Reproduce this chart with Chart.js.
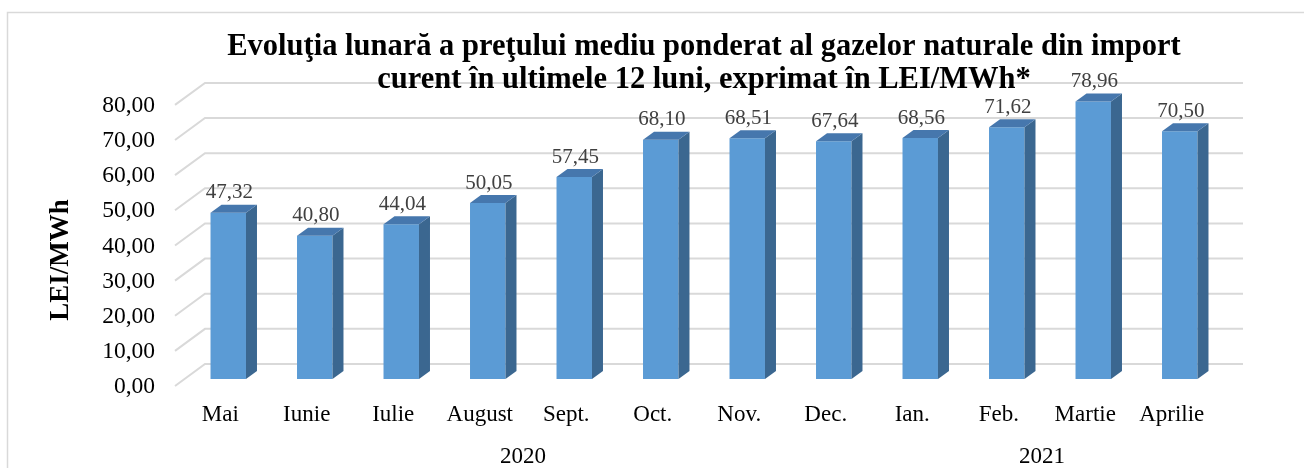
<!DOCTYPE html>
<html>
<head>
<meta charset="utf-8">
<script src="https://cdn.jsdelivr.net/npm/chart.js@4/dist/chart.umd.min.js"></script>
<style>
  html, body { margin: 0; padding: 0; background: #fff; }
  #wrap { width: 1304px; height: 468px; position: relative; }
</style>
</head>
<body>
<div id="wrap"><canvas id="gazChart"></canvas></div>
<script>
// date
const luni = ['Mai', 'Iunie', 'Iulie', 'August', 'Sept.', 'Oct.', 'Nov.', 'Dec.', 'Ian.', 'Feb.', 'Martie', 'Aprilie'];
const preturi = [47.32, 40.80, 44.04, 50.05, 57.45, 68.10, 68.51, 67.64, 68.56, 71.62, 78.96, 70.50];
const ani = ['2020', '2021'];
const luniPeAn = [8, 4];
const titlu = ['Evoluţia lunară a preţului mediu ponderat al gazelor naturale din import',
               'curent în ultimele 12 luni, exprimat în LEI/MWh*'];
const titluAxaY = 'LEI/MWh';

const SERIF = "'Liberation Serif', 'Times New Roman', serif";

function fmt(v) {
    return v.toFixed(2).replace('.', ',');
}

// pseudo-3D: pereti, grila, fete laterale, etichete
const efect3D = {
    id: 'efect3D',
    beforeDraw(chart) {
        const ctx = chart.ctx;
        const y = chart.scales.y;
        const area = chart.chartArea;
        ctx.save();
        // chenarul exterior
        ctx.strokeStyle = '#d9d9d9';
        ctx.lineWidth = 1.5;
        ctx.beginPath();
        ctx.moveTo(7.5, chart.height);
        ctx.lineTo(7.5, 12.5);
        ctx.lineTo(chart.width, 12.5);
        ctx.stroke();
        // grila pe peretele din spate (sub titlu)
        ctx.lineWidth = 2;
        y.ticks.forEach(t => {
            const py = y.getPixelForValue(t.value);
            ctx.beginPath();
            ctx.moveTo(area.left - 10, py + 7);
            ctx.lineTo(area.left + 20, py - 15);
            ctx.lineTo(area.right + 20, py - 15);
            ctx.stroke();
        });
        ctx.restore();
    },
    afterDatasetsDraw(chart) {
        const ctx = chart.ctx;
        const meta = chart.getDatasetMeta(0);
        const base = chart.scales.y.getPixelForValue(0);
        const dx = 11, dy = -8;
        ctx.save();
        meta.data.forEach((bar, i) => {
            const half = bar.width / 2;
            const l = bar.x - half, r = bar.x + half, top = bar.y;
            // fata laterala
            ctx.fillStyle = '#3b6790';
            ctx.beginPath();
            ctx.moveTo(r, top);
            ctx.lineTo(r + dx, top + dy);
            ctx.lineTo(r + dx, base + dy);
            ctx.lineTo(r, base);
            ctx.closePath();
            ctx.fill();
            // fata de sus
            ctx.fillStyle = '#4677ad';
            ctx.beginPath();
            ctx.moveTo(l, top);
            ctx.lineTo(l + dx, top + dy);
            ctx.lineTo(r + dx, top + dy);
            ctx.lineTo(r, top);
            ctx.closePath();
            ctx.fill();
            // eticheta valorii
            ctx.fillStyle = '#404040';
            ctx.font = '21px ' + SERIF;
            ctx.textAlign = 'center';
            ctx.textBaseline = 'middle';
            ctx.fillText(fmt(preturi[i]), bar.x + 1, top - 20);
        });
        ctx.restore();
    },
    afterDraw(chart) {
        const ctx = chart.ctx;
        const x = chart.scales.x;
        ctx.save();
        // anii sub luni
        ctx.fillStyle = '#000';
        ctx.font = '23px ' + SERIF;
        ctx.textAlign = 'center';
        ctx.textBaseline = 'middle';
        let start = 0;
        ani.forEach((an, k) => {
            const end = start + luniPeAn[k] - 1;
            const cx = (x.getPixelForValue(start) + x.getPixelForValue(end)) / 2 - 8;
            ctx.fillText(an, cx, 457);
            start = end + 1;
        });
        // titlul axei Y
        ctx.translate(61, 260);
        ctx.rotate(-Math.PI / 2);
        ctx.font = 'bold 27px ' + SERIF;
        ctx.fillText(titluAxaY, 0, 0);
        ctx.restore();
    }
};

new Chart(document.getElementById('gazChart'), {
    type: 'bar',
    data: {
        labels: luni,
        datasets: [{
            data: preturi,
            backgroundColor: '#5b9bd5',
            borderWidth: 0,
            barPercentage: 0.41,
            categoryPercentage: 1
        }]
    },
    options: {
        responsive: true,
        maintainAspectRatio: false,
        animation: false,
        layout: { padding: { left: 0, right: 81, top: 0, bottom: 0 } },
        plugins: {
            legend: { display: false },
            tooltip: { enabled: false },
            title: {
                display: true,
                fullSize: false,
                text: titlu,
                color: '#000',
                font: { family: SERIF, size: 30.5, weight: 'bold', lineHeight: 1.08 },
                padding: { top: 31, bottom: 1 }
            }
        },
        scales: {
            x: {
                grid: { display: false, drawTicks: false },
                border: { display: false },
                ticks: {
                    color: '#000',
                    font: { family: SERIF, size: 23 },
                    padding: 22,
                    labelOffset: -8,
                    maxRotation: 0,
                    autoSkip: false
                },
                afterFit(s) { s.height = 89; }
            },
            y: {
                min: 0,
                max: 80,
                grid: { display: false, drawTicks: false },
                border: { display: false },
                ticks: {
                    stepSize: 10,
                    color: '#000',
                    font: { family: SERIF, size: 23.5 },
                    padding: 30,
                    labelOffset: 8,
                    callback: v => fmt(v)
                },
                afterFit(s) { s.width = 185; }
            }
        }
    },
    plugins: [efect3D]
});
</script>
</body>
</html>
